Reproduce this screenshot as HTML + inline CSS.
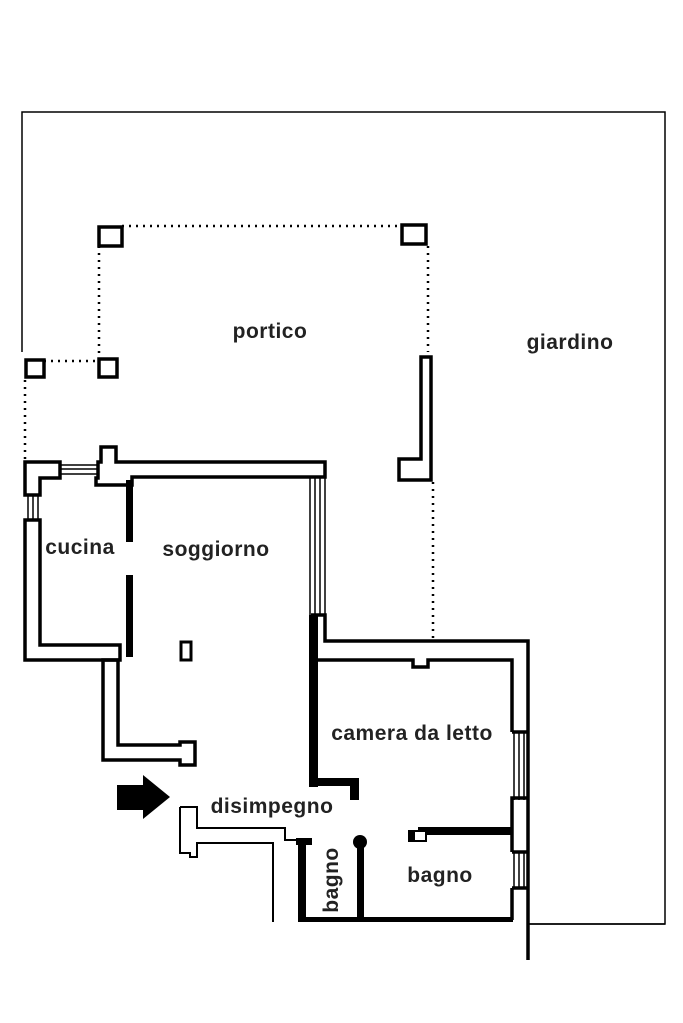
<!DOCTYPE html>
<html><head><meta charset="utf-8"><style>
html,body{margin:0;padding:0;background:#fff}
svg{display:block}
text{font-family:"Liberation Sans",sans-serif;font-size:21px;fill:#222;font-weight:bold;letter-spacing:0.5px}
</style></head><body>
<svg width="683" height="1023" viewBox="0 0 683 1023" xmlns="http://www.w3.org/2000/svg">
<g fill="none" stroke="#000">
 <polyline points="22,352 22,112 665,112 665,924 528,924" stroke-width="1.5"/>
 <g stroke-width="2.5" stroke-dasharray="2,5">
  <line x1="122" y1="226" x2="401" y2="226"/>
  <line x1="99" y1="246" x2="99" y2="358"/>
  <line x1="428" y1="246" x2="428" y2="352"/>
  <line x1="433" y1="482" x2="433" y2="640"/>
  <line x1="44" y1="361" x2="98" y2="361"/>
  <line x1="25" y1="380" x2="25" y2="460"/>
 </g>
 <g stroke-width="3.5">
  <rect x="99" y="227" width="23" height="19"/>
  <rect x="402" y="225" width="24" height="19"/>
  <rect x="26" y="360" width="18" height="17"/>
  <rect x="99" y="359" width="18" height="18"/>
  <path d="M421,357 H431 V480 H399 V459 H421 Z"/>
 </g>
 <g stroke-width="3.5">
  <path d="M25,462 H60 V478 H40 V495 H25 Z"/>
  <path d="M98,462 H101 V447 H116 V462 H325 V477 H132 V485 H96 V478 H98 Z"/>
  <path d="M25,520 H40 V645 H120 V660 H40 V660 H25 Z"/>
 </g>
 <g stroke-width="1.5">
  <line x1="60" y1="465" x2="98" y2="465"/><line x1="60" y1="469" x2="98" y2="469"/><line x1="60" y1="474" x2="98" y2="474"/>
  <line x1="28" y1="495" x2="28" y2="520"/><line x1="33" y1="495" x2="33" y2="520"/><line x1="38" y1="495" x2="38" y2="520"/>
  <line x1="310" y1="478" x2="310" y2="615"/><line x1="315" y1="478" x2="315" y2="615"/><line x1="320" y1="478" x2="320" y2="615"/><line x1="325" y1="478" x2="325" y2="615"/>
  <line x1="514" y1="732" x2="514" y2="800"/><line x1="519" y1="732" x2="519" y2="800"/><line x1="524" y1="732" x2="524" y2="800"/>
  <line x1="514" y1="852" x2="514" y2="888"/><line x1="519" y1="852" x2="519" y2="888"/><line x1="524" y1="852" x2="524" y2="888"/>
 </g>
 <g stroke-width="3.5">
  <path d="M103,660 H118 V745 H180 V742 H195 V765 H180 V760 H103 Z"/>
  <rect x="181" y="642" width="10" height="18" stroke-width="3"/>
  <path d="M311,615 H325 V641 H528 V960 M512,888 V920 M512,852 V798 H528 M512,732 V660 H428 V667 H413 V660 H318"/>
  <line x1="512" y1="732" x2="528" y2="732"/>
  <line x1="512" y1="852" x2="528" y2="852"/>
  <line x1="512" y1="888" x2="528" y2="888"/>
 </g>
 <g stroke-width="2">
  <path d="M180,807 H197 V828 H285 V840 H300 M180,807 V853 H190 V857 H197 V843 H273 V922"/>
 </g>
 <line x1="528" y1="924" x2="665" y2="924" stroke-width="1.5"/>
</g>
<g fill="#000">
 <rect x="126" y="480" width="7" height="62"/>
 <rect x="126" y="575" width="7" height="82"/>
 <rect x="309" y="615" width="9" height="172"/>
 <rect x="309" y="778" width="50" height="8"/>
 <rect x="350" y="778" width="9" height="22"/>
 <rect x="418" y="827" width="95" height="8"/>
 <rect x="408" y="830" width="6" height="12"/>
 <rect x="298" y="838" width="8" height="84"/>
 <rect x="296" y="838" width="16" height="7"/>
 <rect x="357" y="842" width="7" height="80"/>
 <circle cx="360" cy="842" r="7"/>
 <rect x="298" y="917" width="215" height="5"/>
 <path d="M117,785 H143 V775 L170,797 L143,819 V810 H117 Z"/>
</g>
<rect x="414" y="831" width="12" height="10" fill="#fff" stroke="#000" stroke-width="2"/>
<text x="270" y="338" text-anchor="middle">portico</text>
<text x="570" y="349" text-anchor="middle">giardino</text>
<text x="80" y="554" text-anchor="middle">cucina</text>
<text x="216" y="556" text-anchor="middle">soggiorno</text>
<text x="412" y="740" text-anchor="middle">camera da letto</text>
<text x="272" y="813" text-anchor="middle">disimpegno</text>
<text x="440" y="882" text-anchor="middle">bagno</text>
<text transform="translate(338,880) rotate(-90)" text-anchor="middle">bagno</text>
</svg>
</body></html>
